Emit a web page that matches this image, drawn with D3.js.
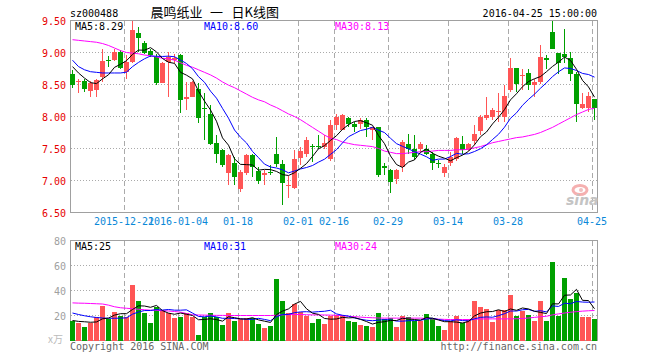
<!DOCTYPE html>
<html><head><meta charset="utf-8">
<script src="https://cdn.jsdelivr.net/npm/d3@7"></script>
<style>body{margin:0;background:#fff}svg{display:block}</style>
</head><body><svg id="c" width="660" height="360"></svg>
<script>
// ---- data ----
const opens  = [8.66,8.54,8.55,8.40,8.41,8.61,8.89,8.88,9.01,8.70,8.85,9.31,9.15,9.02,8.93,8.52,8.85,8.88,8.96,8.28,8.31,8.43,8.14,8.04,7.58,7.47,7.11,7.27,6.87,7.11,7.40,7.15,7.08,7.14,7.42,7.26,6.91,6.89,7.35,7.42,7.54,7.54,7.52,7.34,7.87,7.79,7.98,7.89,7.89,7.94,7.79,7.84,7.22,7.17,7.03,7.21,7.57,7.50,7.50,7.50,7.41,7.28,7.11,7.28,7.34,7.57,7.48,7.62,7.78,7.98,8.00,8.07,7.99,8.41,8.76,8.63,8.68,8.50,8.54,8.91,9.32,8.99,8.97,8.91,8.67,8.13,8.14,8.28];
const highs  = [8.72,8.58,8.59,8.56,8.59,9.06,8.94,9.06,9.04,8.96,9.50,9.40,9.18,9.06,8.98,8.85,9.01,8.98,8.98,8.54,8.55,8.52,8.36,8.18,7.71,7.50,7.42,7.37,7.16,7.42,7.42,7.21,7.16,7.24,7.68,7.32,7.07,7.47,7.53,7.68,7.57,7.71,7.71,7.94,8.04,8.04,7.99,7.92,7.97,7.97,7.84,7.84,7.28,7.18,7.18,7.63,7.73,7.71,7.60,7.55,7.45,7.32,7.26,7.45,7.68,7.69,7.58,7.87,8.03,8.30,8.14,8.36,8.49,8.92,8.76,8.75,8.75,8.59,9.11,8.96,9.50,9.00,9.37,9.01,8.70,8.37,8.39,8.28];
const lows   = [8.44,8.36,8.39,8.31,8.31,8.54,8.78,8.87,8.75,8.59,8.83,9.01,8.98,8.93,8.49,8.52,8.31,8.83,8.05,8.10,8.30,7.90,7.63,7.55,7.27,7.21,6.93,6.93,6.82,7.08,7.06,6.95,6.93,7.08,7.21,6.62,6.72,6.86,7.24,7.37,7.29,7.50,7.50,7.31,7.79,7.79,7.84,7.76,7.81,7.68,7.64,7.06,7.08,6.80,6.94,7.13,7.42,7.32,7.45,7.40,7.16,7.19,7.05,7.22,7.31,7.42,7.46,7.56,7.71,7.94,7.94,7.92,7.91,8.38,8.39,8.41,8.41,8.31,8.51,8.75,9.06,8.67,8.83,8.56,7.92,8.11,8.07,7.95];
const closes = [8.49,8.56,8.43,8.52,8.57,8.86,8.88,9.01,8.76,8.85,9.35,9.22,9.00,8.96,8.52,8.83,8.93,8.91,8.26,8.30,8.54,7.97,8.13,7.57,7.42,7.24,7.40,7.06,7.14,7.40,7.21,7.00,7.12,7.12,7.26,6.96,6.93,7.34,7.46,7.63,7.52,7.53,7.58,7.87,8.00,8.02,7.89,7.83,7.94,7.83,7.83,7.08,7.20,6.98,7.16,7.60,7.50,7.37,7.57,7.42,7.27,7.27,7.21,7.37,7.66,7.47,7.57,7.72,8.00,8.03,8.10,8.09,8.32,8.76,8.51,8.65,8.49,8.54,8.93,8.89,9.06,8.83,8.93,8.67,8.20,8.19,8.32,8.13];
const volumes = [15.5,14.4,11.2,13.9,19.2,28,17.3,23.2,19.5,19.2,44.8,32,22.4,14.4,26.7,24,21.9,17.9,19.2,21.9,19.2,4.8,19.2,21.9,18.7,12.8,22.4,15.5,17.1,18.1,18.1,13.6,10.4,12,49.6,32,22.4,29.6,22.9,20,14.4,17.6,13.3,20,20.8,20.8,15.5,14.7,12.8,12,10.7,22.4,17.3,18.1,11.2,20,19.2,15.5,15.5,21.6,17.3,12,8.8,15.5,20,13.9,17.6,31.5,26.7,25.3,14.7,24.8,24.5,36.8,20,24,20.8,15.5,32,15.5,63.2,20,50.4,33,38,19.2,19.2,17.6];
// moving averages whose early values come from days before the visible window
const ma5Lead  = [8.78,8.68,8.60,8.53];
const ma10Lead = [8.88,8.78,8.73,8.70,8.69,8.68,8.68,8.68,8.68];
const ma30 = [9.20,9.19,9.18,9.17,9.16,9.14,9.11,9.07,9.03,9.00,8.99,8.98,8.96,8.95,8.93,8.91,8.90,8.88,8.84,8.80,8.77,8.73,8.69,8.65,8.60,8.54,8.49,8.45,8.40,8.35,8.30,8.26,8.23,8.18,8.14,8.09,8.04,8.00,7.95,7.89,7.83,7.77,7.71,7.66,7.64,7.60,7.58,7.56,7.55,7.54,7.53,7.50,7.46,7.44,7.42,7.42,7.43,7.44,7.45,7.45,7.46,7.47,7.47,7.47,7.48,7.48,7.49,7.51,7.53,7.56,7.59,7.61,7.63,7.65,7.67,7.68,7.70,7.72,7.75,7.79,7.83,7.88,7.93,7.98,8.03,8.07,8.11,8.13];
const volMa5Lead  = [16,15.3,15,14.6];
const volMa10Lead = [22,20.8,19.8,19,18.4,18,17.8,17.8,17.9];
const volMa30 = [30.1,29.9,29.8,29.6,29.4,29.2,28.3,27,26.2,25.8,25.4,25,24.6,24.3,24.1,23.9,23.6,23.2,22.7,21.6,20.6,20.4,20.3,20.2,20.1,20.1,20,20,20,20,20,20,20,20,20.2,20.5,20.7,20.8,20.8,20.6,20.5,20.5,20.4,20.3,20.2,19.9,19.4,19.1,18.7,18.4,18.2,18.0,17.9,17.9,17.9,17.9,17.9,17.9,17.9,17.6,17.3,17.1,16.9,16.8,16.8,16.8,16.8,17,17.2,17.3,17.3,17.3,17.3,17.3,17.4,17.6,18,18.5,19,19.4,20.5,21.3,22,22.6,23.1,23.5,23.8,24.0];
const tickIndex  = [9,18,28,38,44,53,63,73,87];
const tickLabels = ["2015-12-21","2016-01-04","01-18","02-01","02-16","02-29","03-14","03-28","04-25"];
const priceTicks = [9.5,9.0,8.5,8.0,7.5,7.0,6.5];
const volTicks   = [80,60,40,20];
const priceLegend = ["MA5:8.29","MA10:8.60","MA30:8.13"];
const volLegend   = ["MA5:25","MA10:31","MA30:24"];
const stockCode = "sz000488";
const titleParts = ["晨鸣纸业","一","日K线图"];
const dateText = "2016-04-25 15:00:00";

// ---- helpers ----
function movingAvg(vals, w, lead){
  return vals.map((v,i)=> i < w-1 ? lead[i] : d3.mean(vals.slice(i-w+1,i+1)));
}
const ma5 = movingAvg(closes,5,ma5Lead);
const ma10 = movingAvg(closes,10,ma10Lead);
const vma5 = movingAvg(volumes,5,volMa5Lead);
const vma10 = movingAvg(volumes,10,volMa10Lead);

const n = closes.length;
const RED="#ff5555", GREEN="#00a000", GRID="#aaaaaa", MONO="'DejaVu Sans Mono', 'Liberation Mono', monospace";
const CJK="'Noto Sans CJK SC', sans-serif";
const L=70;
const x = d3.scaleBand().domain(d3.range(n)).range([L, L+6*n-1]).paddingInner(1/6).paddingOuter(0);
const R = 597.5;
const yP = d3.scaleLinear().domain([6.5,9.5]).range([212.5,20.5]);
const yV = d3.scaleLinear().domain([0,80]).range([340.5,240.5]);

const svg = d3.select("#c");

// header
svg.append("text").attr("x",70).attr("y",16.5).attr("font-family",MONO).attr("font-size",10).attr("fill","#000").text(stockCode);
const titleX = [150.5, 210, 231.5];
svg.append("g").selectAll("text").data(titleParts).join("text")
  .attr("x",(d,i)=>titleX[i]).attr("y",17).attr("font-family",CJK).attr("font-size",13).attr("fill","#000").text(d=>d);
svg.append("text").attr("x",597).attr("y",16.5).attr("text-anchor","end").attr("font-family",MONO).attr("font-size",10).attr("fill","#000").text(dateText);

function panel(y, top, bottom, gridTicks){
  const g = svg.append("g");
  g.selectAll("line.h").data(gridTicks).join("line")
    .attr("x1",L+0.5).attr("x2",R).attr("y1",d=>Math.round(y(d)-0.5)+0.5).attr("y2",d=>Math.round(y(d)-0.5)+0.5)
    .attr("stroke",GRID).attr("stroke-dasharray","1,2").attr("shape-rendering","crispEdges");
  g.selectAll("line.v").data(tickIndex).join("line")
    .attr("x1",d=>x(d)+0.5).attr("x2",d=>x(d)+0.5).attr("y1",top).attr("y2",bottom)
    .attr("stroke",GRID).attr("stroke-dasharray","5,3").attr("shape-rendering","crispEdges");
  g.append("rect").attr("x",L+0.5).attr("y",top).attr("width",R-L-0.5).attr("height",bottom-top)
    .attr("fill","none").attr("stroke","#a0a0a0").attr("shape-rendering","crispEdges");
  return g;
}

// ---- price panel ----
panel(yP, 20.5, 212.5, [9.0,8.5,8.0,7.5,7.0]);
svg.append("g").selectAll("text").data(priceTicks).join("text")
  .attr("x",66).attr("y",d=>yP(d)+4).attr("text-anchor","end")
  .attr("font-family",MONO).attr("font-size",10).attr("fill","#e60000").text(d=>d3.format(".2f")(d));

// watermark
const wm = svg.append("g");
wm.append("ellipse").attr("cx",580).attr("cy",190).attr("rx",7).attr("ry",4.5).attr("fill","none").attr("stroke","#f5b0b0").attr("stroke-width",3);
wm.append("circle").attr("cx",581).attr("cy",190).attr("r",2).attr("fill","#f0c0c0");
wm.append("text").attr("x",566).attr("y",205).attr("font-family","'DejaVu Sans', sans-serif").attr("font-style","italic").attr("font-weight","bold").attr("font-size",14).attr("fill","#c4c4c4").text("sina");

const candles = svg.append("g");
candles.selectAll("line").data(d3.range(n)).join("line")
  .attr("x1",i=>x(i)+2.5).attr("x2",i=>x(i)+2.5)
  .attr("y1",i=>yP(highs[i])).attr("y2",i=>yP(lows[i]))
  .attr("stroke",i=>closes[i]>=opens[i]?RED:GREEN).attr("shape-rendering","crispEdges");
candles.selectAll("rect").data(d3.range(n)).join("rect")
  .attr("x",i=>x(i)).attr("width",x.bandwidth())
  .attr("y",i=>yP(Math.max(opens[i],closes[i])))
  .attr("height",i=>Math.max(1,Math.abs(yP(opens[i])-yP(closes[i]))))
  .attr("fill",i=>closes[i]>=opens[i]?RED:GREEN).attr("shape-rendering","crispEdges");

const lineP = d3.line().x((d,i)=>x(i)+2.5).y(d=>yP(d));
[[ma30,"#ff00ff"],[ma10,"#0000ff"],[ma5,"#000000"]].forEach(([s,c])=>{
  svg.append("path").attr("d",lineP(s)).attr("fill","none").attr("stroke",c).attr("stroke-width",1);
});
const legColors=["#000000","#0000ff","#ff00ff"], legX=[75,204,335];
svg.append("g").selectAll("text").data(priceLegend).join("text")
  .attr("x",(d,i)=>legX[i]).attr("y",29.5).attr("font-family",MONO).attr("font-size",10)
  .attr("fill",(d,i)=>legColors[i]).text(d=>d);

// x labels
svg.append("g").selectAll("text").data(tickIndex).join("text")
  .attr("x",d=>x(d)).attr("y",225).attr("text-anchor","middle")
  .attr("font-family",MONO).attr("font-size",10).attr("fill","#0a88d8").text((d,i)=>tickLabels[i]);

// ---- volume panel ----
panel(yV, 240.5, 340.5, [60,40,20]);
svg.append("g").selectAll("text").data(volTicks).join("text")
  .attr("x",66).attr("y",d=>yV(d)+4).attr("text-anchor","end")
  .attr("font-family",MONO).attr("font-size",10).attr("fill","#a0a0a0").text(d=>d);
svg.append("text").attr("x",63).attr("y",343).attr("text-anchor","end").attr("font-family",CJK).attr("font-size",10).attr("fill","#bbbbbb").text("x万");

svg.append("g").selectAll("rect").data(d3.range(n)).join("rect")
  .attr("x",i=>x(i)).attr("width",x.bandwidth())
  .attr("y",i=>yV(volumes[i])).attr("height",i=>yV(0)-yV(volumes[i]))
  .attr("fill",i=>closes[i]>=opens[i]?RED:GREEN).attr("shape-rendering","crispEdges");
const lineV = d3.line().x((d,i)=>x(i)+2.5).y(d=>yV(d));
[[volMa30,"#ff00ff"],[vma10,"#0000ff"],[vma5,"#000000"]].forEach(([s,c])=>{
  svg.append("path").attr("d",lineV(s)).attr("fill","none").attr("stroke",c).attr("stroke-width",1);
});
svg.append("g").selectAll("text").data(volLegend).join("text")
  .attr("x",(d,i)=>legX[i]).attr("y",250).attr("font-family",MONO).attr("font-size",10)
  .attr("fill",(d,i)=>legColors[i]).text(d=>d);

// footer
svg.append("text").attr("x",70).attr("y",349.5).attr("font-family",MONO).attr("font-size",10).attr("fill","#666").text("Copyright 2016 SINA.COM");
svg.append("text").attr("x",597).attr("y",349.5).attr("text-anchor","end").attr("font-family",MONO).attr("font-size",10).attr("fill","#666").text("http://finance.sina.com.cn");
</script></body></html>
